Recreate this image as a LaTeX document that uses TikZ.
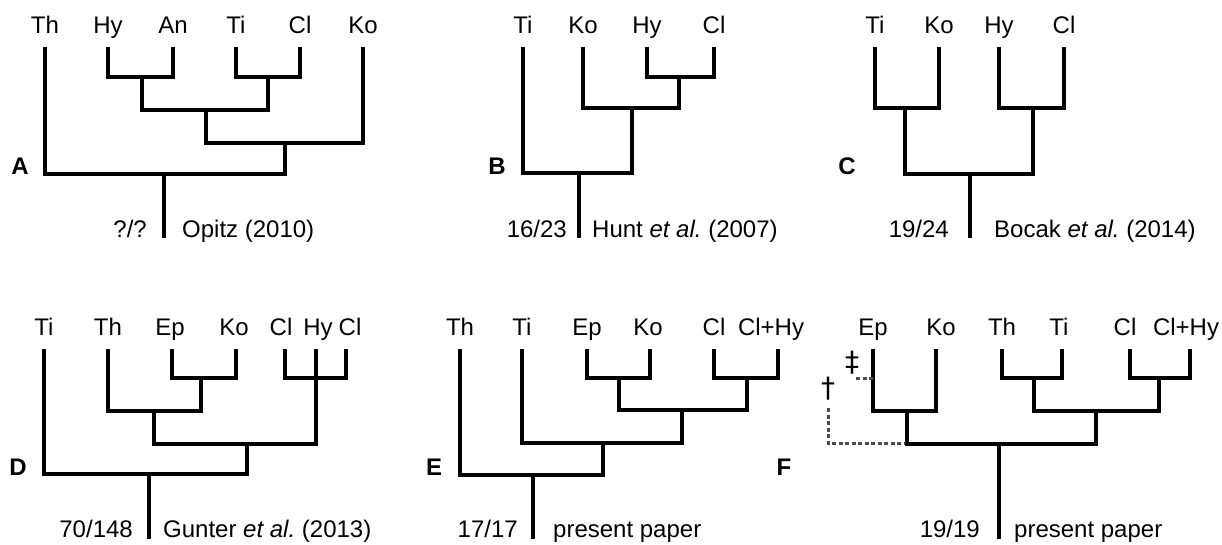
\documentclass[tikz,border=0pt]{standalone}
\usepackage{fontspec}
\setmainfont{Liberation Sans}
\newfontfamily\daggerfont{DejaVu Sans}
\newcommand\labsize{\fontsize{24}{28}\selectfont}
\begin{document}
\begin{tikzpicture}[x=1pt,y=-1pt,
  br/.style={line width=3.3pt, line join=miter, line cap=butt},
  extinct/.style={line width=3pt, black!70, dash pattern=on 4pt off 2.5pt},
  taxon/.style={anchor=base, yshift=14pt, inner sep=0pt, font=\labsize},
  cite/.style={inner sep=0pt, font=\labsize},
  daggersign/.style={inner sep=0pt, font=\daggerfont\fontsize{28}{32}\selectfont},
  panel/.style={anchor=base, inner sep=0pt, font=\labsize\bfseries}]
\useasboundingbox (0,0) rectangle (1222,544);

% ---------- A: Opitz (2010)
\coordinate (a-th) at (45,47);  \coordinate (a-hy) at (108,47);
\coordinate (a-an) at (173,47); \coordinate (a-ti) at (236,47);
\coordinate (a-cl) at (300,47); \coordinate (a-ko) at (363,47);
\node[taxon] (a-th-l) at (a-th) {Th};
\node[taxon] (a-hy-l) at (a-hy) {Hy};
\node[taxon] (a-an-l) at (a-an) {An};
\node[taxon] (a-ti-l) at (a-ti) {Ti};
\node[taxon] (a-cl-l) at (a-cl) {Cl};
\node[taxon] (a-ko-l) at (a-ko) {Ko};
\coordinate (a-hyan) at (142,77);
\coordinate (a-ticl) at (268,77);
\coordinate (a-n3) at (206,110);
\coordinate (a-n4) at (285,143);
\coordinate (a-root) at (164,174);
\coordinate (a-base) at (164,238);
\draw[br] (a-hy) |- (a-hyan) -| (a-an);
\draw[br] (a-ti) |- (a-ticl) -| (a-cl);
\draw[br] (a-hyan) |- (a-n3) -| (a-ticl);
\draw[br] (a-n3) |- (a-n4) -| (a-ko);
\draw[br] (a-th) |- (a-root) -| (a-n4);
\draw[br] (a-root) -- (a-base);
\node[panel] (a-tag) at (20,174) {A};
\node[cite, anchor=base east] (a-sup) at ([xshift=-17pt,yshift=1pt]a-base) {?/?};
\node[cite, anchor=base west] (a-src) at ([xshift=18pt,yshift=1pt]a-base) {Opitz (2010)};

% ---------- B: Hunt et al. (2007)
\coordinate (b-ti) at (523,47); \coordinate (b-ko) at (583,47);
\coordinate (b-hy) at (647,47); \coordinate (b-cl) at (714,47);
\node[taxon] (b-ti-l) at (b-ti) {Ti};
\node[taxon] (b-ko-l) at (b-ko) {Ko};
\node[taxon] (b-hy-l) at (b-hy) {Hy};
\node[taxon] (b-cl-l) at (b-cl) {Cl};
\coordinate (b-hycl) at (679,77);
\coordinate (b-n2) at (632,108);
\coordinate (b-root) at (579,173);
\coordinate (b-base) at (579,238);
\draw[br] (b-hy) |- (b-hycl) -| (b-cl);
\draw[br] (b-ko) |- (b-n2) -| (b-hycl);
\draw[br] (b-ti) |- (b-root) -| (b-n2);
\draw[br] (b-root) -- (b-base);
\node[panel] (b-tag) at (497,174) {B};
\node[cite, anchor=base east] (b-sup) at ([xshift=-12pt,yshift=1pt]b-base) {16/23};
\node[cite, anchor=base west] (b-src) at ([xshift=13pt,yshift=1pt]b-base) {Hunt \textit{et al.}\ (2007)};

% ---------- C: Bocak et al. (2014)
\coordinate (c-ti) at (875,47); \coordinate (c-ko) at (939,47);
\coordinate (c-hy) at (999,47); \coordinate (c-cl) at (1064,47);
\node[taxon] (c-ti-l) at (c-ti) {Ti};
\node[taxon] (c-ko-l) at (c-ko) {Ko};
\node[taxon] (c-hy-l) at (c-hy) {Hy};
\node[taxon] (c-cl-l) at (c-cl) {Cl};
\coordinate (c-tiko) at (905,108);
\coordinate (c-hycl) at (1033,108);
\coordinate (c-root) at (970,174);
\coordinate (c-base) at (970,238);
\draw[br] (c-ti) |- (c-tiko) -| (c-ko);
\draw[br] (c-hy) |- (c-hycl) -| (c-cl);
\draw[br] (c-tiko) |- (c-root) -| (c-hycl);
\draw[br] (c-root) -- (c-base);
\node[panel] (c-tag) at (847,174) {C};
\node[cite, anchor=base east] (c-sup) at ([xshift=-21pt,yshift=1pt]c-base) {19/24};
\node[cite, anchor=base west] (c-src) at ([xshift=24pt,yshift=1pt]c-base) {Bocak \textit{et al.}\ (2014)};

% ---------- D: Gunter et al. (2013)
\coordinate (d-ti) at (44,349);  \coordinate (d-th) at (108,349);
\coordinate (d-ep) at (172,349); \coordinate (d-ko) at (236,349);
\coordinate (d-cla) at (285,349); \coordinate (d-hy) at (316,349);
\coordinate (d-clb) at (346,349);
\node[taxon] (d-ti-l) at (d-ti) {Ti};
\node[taxon] (d-th-l) at (d-th) {Th};
\node[taxon, xshift=-2pt] (d-ep-l) at (d-ep) {Ep};
\node[taxon, xshift=-2pt] (d-ko-l) at (d-ko) {Ko};
\node[taxon, xshift=-4pt] (d-cla-l) at (d-cla) {Cl};
\node[taxon, xshift=2pt] (d-hy-l) at (d-hy) {Hy};
\node[taxon, xshift=4pt] (d-clb-l) at (d-clb) {Cl};
\coordinate (d-epko) at (201,378);
\coordinate (d-clhy) at (316,378);
\coordinate (d-n3) at (154,411);
\coordinate (d-n4) at (247,444);
\coordinate (d-root) at (149,474);
\coordinate (d-base) at (149,539);
\draw[br] (d-ep) |- (d-epko) -| (d-ko);
\draw[br] (d-cla) |- (d-clhy) -| (d-clb);
\draw[br] (d-hy) -- (d-clhy);
\draw[br] (d-th) |- (d-n3) -| (d-epko);
\draw[br] (d-n3) |- (d-n4) -| (d-clhy);
\draw[br] (d-ti) |- (d-root) -| (d-n4);
\draw[br] (d-root) -- (d-base);
\node[panel] (d-tag) at (18,475) {D};
\node[cite, anchor=base east] (d-sup) at ([xshift=-16pt,yshift=2pt]d-base) {70/148};
\node[cite, anchor=base west] (d-src) at ([xshift=14pt,yshift=2pt]d-base) {Gunter \textit{et al.}\ (2013)};

% ---------- E: present paper
\coordinate (e-th) at (460,349); \coordinate (e-ti) at (522,349);
\coordinate (e-ep) at (587,349); \coordinate (e-ko) at (650,349);
\coordinate (e-cl) at (714,349); \coordinate (e-clhy) at (778,349);
\node[taxon] (e-th-l) at (e-th) {Th};
\node[taxon] (e-ti-l) at (e-ti) {Ti};
\node[taxon] (e-ep-l) at (e-ep) {Ep};
\node[taxon, xshift=-2pt] (e-ko-l) at (e-ko) {Ko};
\node[taxon] (e-cl-l) at (e-cl) {Cl};
\node[taxon, xshift=-7pt] (e-clhy-l) at (e-clhy) {Cl+Hy};
\coordinate (e-epko) at (619,378);
\coordinate (e-clcl) at (747,378);
\coordinate (e-n3) at (682,410);
\coordinate (e-n4) at (603,443);
\coordinate (e-root) at (533,475);
\coordinate (e-base) at (533,539);
\draw[br] (e-ep) |- (e-epko) -| (e-ko);
\draw[br] (e-cl) |- (e-clcl) -| (e-clhy);
\draw[br] (e-epko) |- (e-n3) -| (e-clcl);
\draw[br] (e-ti) |- (e-n4) -| (e-n3);
\draw[br] (e-th) |- (e-root) -| (e-n4);
\draw[br] (e-root) -- (e-base);
\node[panel] (e-tag) at (434,475) {E};
\node[cite, anchor=base east] (e-sup) at ([xshift=-15pt,yshift=2pt]e-base) {17/17};
\node[cite, anchor=base west] (e-src) at ([xshift=20pt,yshift=2pt]e-base) {present paper};

% ---------- F: present paper, with extinct lineages
\coordinate (f-ep) at (873,349); \coordinate (f-ko) at (936,349);
\coordinate (f-th) at (1002,349); \coordinate (f-ti) at (1062,349);
\coordinate (f-cl) at (1130,349); \coordinate (f-clhy) at (1190,349);
\node[taxon] (f-ep-l) at (f-ep) {Ep};
\node[taxon, xshift=5pt] (f-ko-l) at (f-ko) {Ko};
\node[taxon] (f-th-l) at (f-th) {Th};
\node[taxon, xshift=-3pt] (f-ti-l) at (f-ti) {Ti};
\node[taxon, xshift=-5pt] (f-cl-l) at (f-cl) {Cl};
\node[taxon, xshift=-4pt] (f-clhy-l) at (f-clhy) {Cl+Hy};
\coordinate (f-thti) at (1034,378);
\coordinate (f-clcl) at (1159,378);
\coordinate (f-epko) at (907,411);
\coordinate (f-n3) at (1096,411);
\coordinate (f-root) at (999,444);
\coordinate (f-base) at (999,539);
\coordinate (f-rootleft) at (905,443);
\coordinate (f-epmid) at (873,378);
\draw[br] (f-th) |- (f-thti) -| (f-ti);
\draw[br] (f-cl) |- (f-clcl) -| (f-clhy);
\draw[br] (f-ep) |- (f-epko) -| (f-ko);
\draw[br] (f-thti) |- (f-n3) -| (f-clcl);
\draw[br] (f-epko) |- (f-root) -| (f-n3);
\draw[br] (f-root) -- (f-base);
\node[panel] (f-tag) at (784,475) {F};
\node[cite, anchor=base east] (f-sup) at ([xshift=-19pt,yshift=2pt]f-base) {19/19};
\node[cite, anchor=base west] (f-src) at ([xshift=15pt,yshift=2pt]f-base) {present paper};
% extinct side branches
\node[daggersign] (f-ddag) at (852,363) {‡};
\node[daggersign] (f-dag) at (828,389) {†};
\coordinate (f-ddag-end) at (856,378);
\coordinate (f-dag-end) at (828,408);
\draw[extinct] (f-ddag-end) -- (f-epmid);
\draw[extinct] (f-dag-end) |- (f-rootleft);
\end{tikzpicture}
\end{document}
